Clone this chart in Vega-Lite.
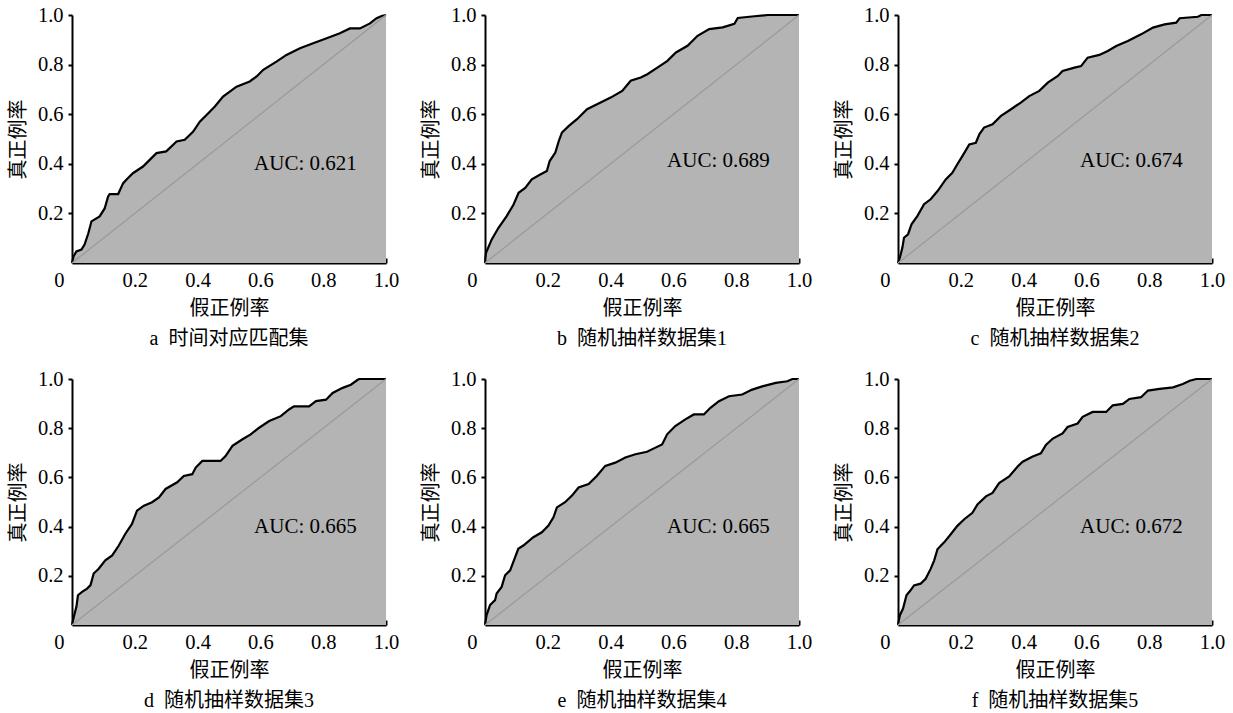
{
  "$schema": "https://vega.github.io/schema/vega-lite/v6.json",
  "background": "white",
  "padding": {"left": 8, "top": 5, "right": 5, "bottom": 0},
  "columns": 3,
  "spacing": {"column": 22, "row": 20},
  "config": {
    "view": {"stroke": null},
    "axis": {
      "grid": false,
      "domainColor": "black",
      "domainWidth": 2,
      "tickColor": "black",
      "tickWidth": 2,
      "labelFont": "Liberation Serif",
      "labelFontSize": 20.5,
      "labelColor": "black",
      "titleFont": "Liberation Serif, Noto Sans CJK SC",
      "titleFontSize": 20,
      "titleFontWeight": "normal",
      "titleColor": "black"
    },
    "title": {
      "font": "Liberation Serif, Noto Sans CJK SC",
      "fontSize": 20,
      "fontWeight": "normal",
      "color": "black",
      "orient": "bottom",
      "offset": 10
    }
  },
  "datasets": {
    "roc": [
      {"panel": "a", "fpr": 0, "tpr": 0},
      {"panel": "a", "fpr": 0.005, "tpr": 0.027},
      {"panel": "a", "fpr": 0.014, "tpr": 0.047},
      {"panel": "a", "fpr": 0.03, "tpr": 0.054},
      {"panel": "a", "fpr": 0.04, "tpr": 0.074},
      {"panel": "a", "fpr": 0.052, "tpr": 0.12},
      {"panel": "a", "fpr": 0.062, "tpr": 0.168},
      {"panel": "a", "fpr": 0.088, "tpr": 0.188},
      {"panel": "a", "fpr": 0.104, "tpr": 0.22},
      {"panel": "a", "fpr": 0.115, "tpr": 0.268},
      {"panel": "a", "fpr": 0.12, "tpr": 0.278},
      {"panel": "a", "fpr": 0.147, "tpr": 0.278},
      {"panel": "a", "fpr": 0.163, "tpr": 0.322},
      {"panel": "a", "fpr": 0.173, "tpr": 0.336},
      {"panel": "a", "fpr": 0.194, "tpr": 0.362},
      {"panel": "a", "fpr": 0.226, "tpr": 0.389},
      {"panel": "a", "fpr": 0.269, "tpr": 0.443},
      {"panel": "a", "fpr": 0.3, "tpr": 0.45},
      {"panel": "a", "fpr": 0.333, "tpr": 0.49},
      {"panel": "a", "fpr": 0.359, "tpr": 0.497},
      {"panel": "a", "fpr": 0.386, "tpr": 0.53},
      {"panel": "a", "fpr": 0.407, "tpr": 0.57},
      {"panel": "a", "fpr": 0.434, "tpr": 0.604},
      {"panel": "a", "fpr": 0.455, "tpr": 0.631},
      {"panel": "a", "fpr": 0.481, "tpr": 0.671},
      {"panel": "a", "fpr": 0.524, "tpr": 0.711},
      {"panel": "a", "fpr": 0.566, "tpr": 0.732},
      {"panel": "a", "fpr": 0.588, "tpr": 0.752},
      {"panel": "a", "fpr": 0.609, "tpr": 0.779},
      {"panel": "a", "fpr": 0.651, "tpr": 0.812},
      {"panel": "a", "fpr": 0.683, "tpr": 0.839},
      {"panel": "a", "fpr": 0.726, "tpr": 0.866},
      {"panel": "a", "fpr": 0.768, "tpr": 0.886},
      {"panel": "a", "fpr": 0.811, "tpr": 0.906},
      {"panel": "a", "fpr": 0.853, "tpr": 0.926},
      {"panel": "a", "fpr": 0.885, "tpr": 0.946},
      {"panel": "a", "fpr": 0.917, "tpr": 0.946},
      {"panel": "a", "fpr": 0.949, "tpr": 0.966},
      {"panel": "a", "fpr": 0.97, "tpr": 0.987},
      {"panel": "a", "fpr": 0.986, "tpr": 0.996},
      {"panel": "a", "fpr": 1, "tpr": 1},

      {"panel": "b", "fpr": 0, "tpr": 0},
      {"panel": "b", "fpr": 0.003, "tpr": 0.04},
      {"panel": "b", "fpr": 0.021, "tpr": 0.094},
      {"panel": "b", "fpr": 0.043, "tpr": 0.142},
      {"panel": "b", "fpr": 0.069, "tpr": 0.189},
      {"panel": "b", "fpr": 0.091, "tpr": 0.236},
      {"panel": "b", "fpr": 0.107, "tpr": 0.283},
      {"panel": "b", "fpr": 0.128, "tpr": 0.303},
      {"panel": "b", "fpr": 0.149, "tpr": 0.337},
      {"panel": "b", "fpr": 0.176, "tpr": 0.357},
      {"panel": "b", "fpr": 0.197, "tpr": 0.371},
      {"panel": "b", "fpr": 0.206, "tpr": 0.411},
      {"panel": "b", "fpr": 0.224, "tpr": 0.445},
      {"panel": "b", "fpr": 0.235, "tpr": 0.492},
      {"panel": "b", "fpr": 0.245, "tpr": 0.526},
      {"panel": "b", "fpr": 0.267, "tpr": 0.553},
      {"panel": "b", "fpr": 0.293, "tpr": 0.58},
      {"panel": "b", "fpr": 0.325, "tpr": 0.62},
      {"panel": "b", "fpr": 0.368, "tpr": 0.647},
      {"panel": "b", "fpr": 0.4, "tpr": 0.667},
      {"panel": "b", "fpr": 0.437, "tpr": 0.694},
      {"panel": "b", "fpr": 0.464, "tpr": 0.735},
      {"panel": "b", "fpr": 0.496, "tpr": 0.748},
      {"panel": "b", "fpr": 0.517, "tpr": 0.761},
      {"panel": "b", "fpr": 0.549, "tpr": 0.788},
      {"panel": "b", "fpr": 0.581, "tpr": 0.815},
      {"panel": "b", "fpr": 0.608, "tpr": 0.849},
      {"panel": "b", "fpr": 0.645, "tpr": 0.876},
      {"panel": "b", "fpr": 0.677, "tpr": 0.916},
      {"panel": "b", "fpr": 0.714, "tpr": 0.943},
      {"panel": "b", "fpr": 0.757, "tpr": 0.95},
      {"panel": "b", "fpr": 0.794, "tpr": 0.964},
      {"panel": "b", "fpr": 0.805, "tpr": 0.988},
      {"panel": "b", "fpr": 0.858, "tpr": 0.995},
      {"panel": "b", "fpr": 0.901, "tpr": 1},
      {"panel": "b", "fpr": 1, "tpr": 1},

      {"panel": "c", "fpr": 0, "tpr": 0},
      {"panel": "c", "fpr": 0.006, "tpr": 0.022},
      {"panel": "c", "fpr": 0.014, "tpr": 0.062},
      {"panel": "c", "fpr": 0.019, "tpr": 0.102},
      {"panel": "c", "fpr": 0.032, "tpr": 0.116},
      {"panel": "c", "fpr": 0.043, "tpr": 0.156},
      {"panel": "c", "fpr": 0.062, "tpr": 0.19},
      {"panel": "c", "fpr": 0.083, "tpr": 0.237},
      {"panel": "c", "fpr": 0.104, "tpr": 0.257},
      {"panel": "c", "fpr": 0.126, "tpr": 0.29},
      {"panel": "c", "fpr": 0.152, "tpr": 0.337},
      {"panel": "c", "fpr": 0.173, "tpr": 0.364},
      {"panel": "c", "fpr": 0.189, "tpr": 0.398},
      {"panel": "c", "fpr": 0.205, "tpr": 0.431},
      {"panel": "c", "fpr": 0.227, "tpr": 0.478},
      {"panel": "c", "fpr": 0.248, "tpr": 0.485},
      {"panel": "c", "fpr": 0.259, "tpr": 0.519},
      {"panel": "c", "fpr": 0.274, "tpr": 0.546},
      {"panel": "c", "fpr": 0.301, "tpr": 0.559},
      {"panel": "c", "fpr": 0.328, "tpr": 0.593},
      {"panel": "c", "fpr": 0.36, "tpr": 0.62},
      {"panel": "c", "fpr": 0.391, "tpr": 0.647},
      {"panel": "c", "fpr": 0.418, "tpr": 0.673},
      {"panel": "c", "fpr": 0.45, "tpr": 0.694},
      {"panel": "c", "fpr": 0.477, "tpr": 0.727},
      {"panel": "c", "fpr": 0.509, "tpr": 0.754},
      {"panel": "c", "fpr": 0.524, "tpr": 0.774},
      {"panel": "c", "fpr": 0.562, "tpr": 0.788},
      {"panel": "c", "fpr": 0.583, "tpr": 0.794},
      {"panel": "c", "fpr": 0.604, "tpr": 0.828},
      {"panel": "c", "fpr": 0.641, "tpr": 0.839},
      {"panel": "c", "fpr": 0.668, "tpr": 0.855},
      {"panel": "c", "fpr": 0.695, "tpr": 0.875},
      {"panel": "c", "fpr": 0.732, "tpr": 0.895},
      {"panel": "c", "fpr": 0.774, "tpr": 0.922},
      {"panel": "c", "fpr": 0.812, "tpr": 0.949},
      {"panel": "c", "fpr": 0.849, "tpr": 0.962},
      {"panel": "c", "fpr": 0.886, "tpr": 0.969},
      {"panel": "c", "fpr": 0.897, "tpr": 0.987},
      {"panel": "c", "fpr": 0.955, "tpr": 0.993},
      {"panel": "c", "fpr": 0.966, "tpr": 1},
      {"panel": "c", "fpr": 1, "tpr": 1},

      {"panel": "d", "fpr": 0, "tpr": 0},
      {"panel": "d", "fpr": 0.007, "tpr": 0.04},
      {"panel": "d", "fpr": 0.014, "tpr": 0.074},
      {"panel": "d", "fpr": 0.019, "tpr": 0.121},
      {"panel": "d", "fpr": 0.032, "tpr": 0.135},
      {"panel": "d", "fpr": 0.048, "tpr": 0.148},
      {"panel": "d", "fpr": 0.059, "tpr": 0.162},
      {"panel": "d", "fpr": 0.069, "tpr": 0.209},
      {"panel": "d", "fpr": 0.085, "tpr": 0.229},
      {"panel": "d", "fpr": 0.106, "tpr": 0.263},
      {"panel": "d", "fpr": 0.128, "tpr": 0.283},
      {"panel": "d", "fpr": 0.149, "tpr": 0.323},
      {"panel": "d", "fpr": 0.17, "tpr": 0.371},
      {"panel": "d", "fpr": 0.191, "tpr": 0.411},
      {"panel": "d", "fpr": 0.207, "tpr": 0.465},
      {"panel": "d", "fpr": 0.229, "tpr": 0.485},
      {"panel": "d", "fpr": 0.255, "tpr": 0.499},
      {"panel": "d", "fpr": 0.277, "tpr": 0.519},
      {"panel": "d", "fpr": 0.298, "tpr": 0.553},
      {"panel": "d", "fpr": 0.335, "tpr": 0.58},
      {"panel": "d", "fpr": 0.356, "tpr": 0.606},
      {"panel": "d", "fpr": 0.383, "tpr": 0.613},
      {"panel": "d", "fpr": 0.394, "tpr": 0.64},
      {"panel": "d", "fpr": 0.415, "tpr": 0.667},
      {"panel": "d", "fpr": 0.473, "tpr": 0.667},
      {"panel": "d", "fpr": 0.489, "tpr": 0.687},
      {"panel": "d", "fpr": 0.511, "tpr": 0.728},
      {"panel": "d", "fpr": 0.543, "tpr": 0.755},
      {"panel": "d", "fpr": 0.569, "tpr": 0.775},
      {"panel": "d", "fpr": 0.596, "tpr": 0.802},
      {"panel": "d", "fpr": 0.628, "tpr": 0.829},
      {"panel": "d", "fpr": 0.665, "tpr": 0.849},
      {"panel": "d", "fpr": 0.691, "tpr": 0.876},
      {"panel": "d", "fpr": 0.707, "tpr": 0.889},
      {"panel": "d", "fpr": 0.755, "tpr": 0.889},
      {"panel": "d", "fpr": 0.777, "tpr": 0.91},
      {"panel": "d", "fpr": 0.809, "tpr": 0.916},
      {"panel": "d", "fpr": 0.83, "tpr": 0.943},
      {"panel": "d", "fpr": 0.862, "tpr": 0.964},
      {"panel": "d", "fpr": 0.888, "tpr": 0.977},
      {"panel": "d", "fpr": 0.91, "tpr": 0.997},
      {"panel": "d", "fpr": 0.915, "tpr": 1},
      {"panel": "d", "fpr": 1, "tpr": 1},

      {"panel": "e", "fpr": 0, "tpr": 0},
      {"panel": "e", "fpr": 0.005, "tpr": 0.04},
      {"panel": "e", "fpr": 0.016, "tpr": 0.081},
      {"panel": "e", "fpr": 0.032, "tpr": 0.101},
      {"panel": "e", "fpr": 0.037, "tpr": 0.128},
      {"panel": "e", "fpr": 0.053, "tpr": 0.155},
      {"panel": "e", "fpr": 0.064, "tpr": 0.202},
      {"panel": "e", "fpr": 0.08, "tpr": 0.222},
      {"panel": "e", "fpr": 0.09, "tpr": 0.256},
      {"panel": "e", "fpr": 0.106, "tpr": 0.31},
      {"panel": "e", "fpr": 0.122, "tpr": 0.323},
      {"panel": "e", "fpr": 0.154, "tpr": 0.357},
      {"panel": "e", "fpr": 0.181, "tpr": 0.377},
      {"panel": "e", "fpr": 0.202, "tpr": 0.404},
      {"panel": "e", "fpr": 0.218, "tpr": 0.438},
      {"panel": "e", "fpr": 0.229, "tpr": 0.478},
      {"panel": "e", "fpr": 0.255, "tpr": 0.499},
      {"panel": "e", "fpr": 0.277, "tpr": 0.526},
      {"panel": "e", "fpr": 0.298, "tpr": 0.559},
      {"panel": "e", "fpr": 0.33, "tpr": 0.573},
      {"panel": "e", "fpr": 0.356, "tpr": 0.606},
      {"panel": "e", "fpr": 0.383, "tpr": 0.647},
      {"panel": "e", "fpr": 0.415, "tpr": 0.66},
      {"panel": "e", "fpr": 0.447, "tpr": 0.681},
      {"panel": "e", "fpr": 0.479, "tpr": 0.694},
      {"panel": "e", "fpr": 0.516, "tpr": 0.704},
      {"panel": "e", "fpr": 0.543, "tpr": 0.721},
      {"panel": "e", "fpr": 0.564, "tpr": 0.734},
      {"panel": "e", "fpr": 0.58, "tpr": 0.775},
      {"panel": "e", "fpr": 0.606, "tpr": 0.809},
      {"panel": "e", "fpr": 0.638, "tpr": 0.836},
      {"panel": "e", "fpr": 0.665, "tpr": 0.856},
      {"panel": "e", "fpr": 0.697, "tpr": 0.856},
      {"panel": "e", "fpr": 0.718, "tpr": 0.883},
      {"panel": "e", "fpr": 0.745, "tpr": 0.91},
      {"panel": "e", "fpr": 0.777, "tpr": 0.93},
      {"panel": "e", "fpr": 0.819, "tpr": 0.937},
      {"panel": "e", "fpr": 0.851, "tpr": 0.957},
      {"panel": "e", "fpr": 0.883, "tpr": 0.97},
      {"panel": "e", "fpr": 0.926, "tpr": 0.984},
      {"panel": "e", "fpr": 0.963, "tpr": 0.991},
      {"panel": "e", "fpr": 0.979, "tpr": 1},
      {"panel": "e", "fpr": 1, "tpr": 1},

      {"panel": "f", "fpr": 0, "tpr": 0},
      {"panel": "f", "fpr": 0.006, "tpr": 0.04},
      {"panel": "f", "fpr": 0.016, "tpr": 0.067},
      {"panel": "f", "fpr": 0.027, "tpr": 0.121},
      {"panel": "f", "fpr": 0.04, "tpr": 0.141},
      {"panel": "f", "fpr": 0.051, "tpr": 0.161},
      {"panel": "f", "fpr": 0.072, "tpr": 0.168},
      {"panel": "f", "fpr": 0.088, "tpr": 0.188},
      {"panel": "f", "fpr": 0.104, "tpr": 0.228},
      {"panel": "f", "fpr": 0.115, "tpr": 0.262},
      {"panel": "f", "fpr": 0.126, "tpr": 0.309},
      {"panel": "f", "fpr": 0.147, "tpr": 0.336},
      {"panel": "f", "fpr": 0.168, "tpr": 0.369},
      {"panel": "f", "fpr": 0.189, "tpr": 0.403},
      {"panel": "f", "fpr": 0.211, "tpr": 0.43},
      {"panel": "f", "fpr": 0.237, "tpr": 0.456},
      {"panel": "f", "fpr": 0.253, "tpr": 0.49},
      {"panel": "f", "fpr": 0.28, "tpr": 0.523},
      {"panel": "f", "fpr": 0.301, "tpr": 0.537},
      {"panel": "f", "fpr": 0.322, "tpr": 0.577},
      {"panel": "f", "fpr": 0.354, "tpr": 0.604},
      {"panel": "f", "fpr": 0.381, "tpr": 0.644},
      {"panel": "f", "fpr": 0.397, "tpr": 0.664},
      {"panel": "f", "fpr": 0.429, "tpr": 0.685},
      {"panel": "f", "fpr": 0.455, "tpr": 0.698},
      {"panel": "f", "fpr": 0.471, "tpr": 0.732},
      {"panel": "f", "fpr": 0.493, "tpr": 0.758},
      {"panel": "f", "fpr": 0.524, "tpr": 0.779},
      {"panel": "f", "fpr": 0.54, "tpr": 0.805},
      {"panel": "f", "fpr": 0.572, "tpr": 0.819},
      {"panel": "f", "fpr": 0.588, "tpr": 0.846},
      {"panel": "f", "fpr": 0.62, "tpr": 0.866},
      {"panel": "f", "fpr": 0.663, "tpr": 0.866},
      {"panel": "f", "fpr": 0.684, "tpr": 0.893},
      {"panel": "f", "fpr": 0.716, "tpr": 0.899},
      {"panel": "f", "fpr": 0.737, "tpr": 0.919},
      {"panel": "f", "fpr": 0.774, "tpr": 0.926},
      {"panel": "f", "fpr": 0.796, "tpr": 0.953},
      {"panel": "f", "fpr": 0.833, "tpr": 0.96},
      {"panel": "f", "fpr": 0.876, "tpr": 0.966},
      {"panel": "f", "fpr": 0.907, "tpr": 0.98},
      {"panel": "f", "fpr": 0.929, "tpr": 0.993},
      {"panel": "f", "fpr": 0.95, "tpr": 1},
      {"panel": "f", "fpr": 1, "tpr": 1}
    ],
    "auc": [
      {"panel": "a", "label": "AUC: 0.621"},
      {"panel": "b", "label": "AUC: 0.689"},
      {"panel": "c", "label": "AUC: 0.674"},
      {"panel": "d", "label": "AUC: 0.665"},
      {"panel": "e", "label": "AUC: 0.665"},
      {"panel": "f", "label": "AUC: 0.672"}
    ]
  },
  "concat": [
    {
      "title": {"text": "a\u00a0\u00a0时间对应匹配集"},
      "width": 314, "height": 248,
      "layer": [
        {"data": {"name": "roc"}, "transform": [{"filter": "datum.panel == 'a'"}],
         "mark": {"type": "area", "color": "#b4b4b4", "opacity": 1},
         "encoding": {
           "x": {"field": "fpr", "type": "quantitative", "scale": {"domain": [0, 1]}, "title": "假正例率",
                 "axis": {"values": [0, 0.2, 0.4, 0.6, 0.8, 1], "labelExpr": "datum.value == 0 ? '0' : format(datum.value, '.1f')", "labelFont": "Liberation Serif", "labelFontSize": 20.5, "tickSize": -5, "labelPadding": 12, "titlePadding": 8,
                          "labelAlign": {"condition": {"test": "datum.value == 0", "value": "right"}, "value": "center"},
                          "labelOffset": {"condition": {"test": "datum.value == 0", "value": -8}, "value": 0},
                          "tickOpacity": {"condition": {"test": "datum.value == 0", "value": 0}, "value": 1}}},
           "y": {"field": "tpr", "type": "quantitative", "scale": {"domain": [0, 1]}, "title": "真正例率",
                 "axis": {"values": [0.2, 0.4, 0.6, 0.8, 1], "format": ".1f", "labelFont": "Liberation Serif", "labelFontSize": 20.5, "tickSize": 4, "labelPadding": 5, "titlePadding": 9}}
         }},
        {"data": {"name": "roc"}, "transform": [{"filter": "datum.panel == 'a'"}],
         "mark": {"type": "line", "color": "black", "strokeWidth": 2.2, "interpolate": "linear"},
         "encoding": {"x": {"field": "fpr", "type": "quantitative"}, "y": {"field": "tpr", "type": "quantitative"}}},
        {"data": {"name": "auc"}, "transform": [{"filter": "datum.panel == 'a'"}],
         "mark": {"type": "rule", "color": "#999999", "strokeWidth": 1.2},
         "encoding": {"x": {"datum": 0}, "y": {"datum": 0}, "x2": {"datum": 1}, "y2": {"datum": 1}}},
        {"data": {"name": "auc"}, "transform": [{"filter": "datum.panel == 'a'"}],
         "mark": {"type": "text", "align": "left", "baseline": "middle", "font": "Liberation Serif", "fontSize": 21, "color": "black"},
         "encoding": {"x": {"datum": 0.58}, "y": {"datum": 0.4}, "text": {"field": "label"}}}
      ]
    },
    {
      "title": {"text": "b\u00a0\u00a0随机抽样数据集1"},
      "width": 314, "height": 248,
      "layer": [
        {"data": {"name": "roc"}, "transform": [{"filter": "datum.panel == 'b'"}],
         "mark": {"type": "area", "color": "#b4b4b4", "opacity": 1},
         "encoding": {
           "x": {"field": "fpr", "type": "quantitative", "scale": {"domain": [0, 1]}, "title": "假正例率",
                 "axis": {"values": [0, 0.2, 0.4, 0.6, 0.8, 1], "labelExpr": "datum.value == 0 ? '0' : format(datum.value, '.1f')", "labelFont": "Liberation Serif", "labelFontSize": 20.5, "tickSize": -5, "labelPadding": 12, "titlePadding": 8,
                          "labelAlign": {"condition": {"test": "datum.value == 0", "value": "right"}, "value": "center"},
                          "labelOffset": {"condition": {"test": "datum.value == 0", "value": -8}, "value": 0},
                          "tickOpacity": {"condition": {"test": "datum.value == 0", "value": 0}, "value": 1}}},
           "y": {"field": "tpr", "type": "quantitative", "scale": {"domain": [0, 1]}, "title": "真正例率",
                 "axis": {"values": [0.2, 0.4, 0.6, 0.8, 1], "format": ".1f", "labelFont": "Liberation Serif", "labelFontSize": 20.5, "tickSize": 4, "labelPadding": 5, "titlePadding": 9}}
         }},
        {"data": {"name": "roc"}, "transform": [{"filter": "datum.panel == 'b'"}],
         "mark": {"type": "line", "color": "black", "strokeWidth": 2.2, "interpolate": "linear"},
         "encoding": {"x": {"field": "fpr", "type": "quantitative"}, "y": {"field": "tpr", "type": "quantitative"}}},
        {"data": {"name": "auc"}, "transform": [{"filter": "datum.panel == 'b'"}],
         "mark": {"type": "rule", "color": "#999999", "strokeWidth": 1.2},
         "encoding": {"x": {"datum": 0}, "y": {"datum": 0}, "x2": {"datum": 1}, "y2": {"datum": 1}}},
        {"data": {"name": "auc"}, "transform": [{"filter": "datum.panel == 'b'"}],
         "mark": {"type": "text", "align": "left", "baseline": "middle", "font": "Liberation Serif", "fontSize": 21, "color": "black"},
         "encoding": {"x": {"datum": 0.58}, "y": {"datum": 0.41}, "text": {"field": "label"}}}
      ]
    },
    {
      "title": {"text": "c\u00a0\u00a0随机抽样数据集2"},
      "width": 314, "height": 248,
      "layer": [
        {"data": {"name": "roc"}, "transform": [{"filter": "datum.panel == 'c'"}],
         "mark": {"type": "area", "color": "#b4b4b4", "opacity": 1},
         "encoding": {
           "x": {"field": "fpr", "type": "quantitative", "scale": {"domain": [0, 1]}, "title": "假正例率",
                 "axis": {"values": [0, 0.2, 0.4, 0.6, 0.8, 1], "labelExpr": "datum.value == 0 ? '0' : format(datum.value, '.1f')", "labelFont": "Liberation Serif", "labelFontSize": 20.5, "tickSize": -5, "labelPadding": 12, "titlePadding": 8,
                          "labelAlign": {"condition": {"test": "datum.value == 0", "value": "right"}, "value": "center"},
                          "labelOffset": {"condition": {"test": "datum.value == 0", "value": -8}, "value": 0},
                          "tickOpacity": {"condition": {"test": "datum.value == 0", "value": 0}, "value": 1}}},
           "y": {"field": "tpr", "type": "quantitative", "scale": {"domain": [0, 1]}, "title": "真正例率",
                 "axis": {"values": [0.2, 0.4, 0.6, 0.8, 1], "format": ".1f", "labelFont": "Liberation Serif", "labelFontSize": 20.5, "tickSize": 4, "labelPadding": 5, "titlePadding": 9}}
         }},
        {"data": {"name": "roc"}, "transform": [{"filter": "datum.panel == 'c'"}],
         "mark": {"type": "line", "color": "black", "strokeWidth": 2.2, "interpolate": "linear"},
         "encoding": {"x": {"field": "fpr", "type": "quantitative"}, "y": {"field": "tpr", "type": "quantitative"}}},
        {"data": {"name": "auc"}, "transform": [{"filter": "datum.panel == 'c'"}],
         "mark": {"type": "rule", "color": "#999999", "strokeWidth": 1.2},
         "encoding": {"x": {"datum": 0}, "y": {"datum": 0}, "x2": {"datum": 1}, "y2": {"datum": 1}}},
        {"data": {"name": "auc"}, "transform": [{"filter": "datum.panel == 'c'"}],
         "mark": {"type": "text", "align": "left", "baseline": "middle", "font": "Liberation Serif", "fontSize": 21, "color": "black"},
         "encoding": {"x": {"datum": 0.58}, "y": {"datum": 0.41}, "text": {"field": "label"}}}
      ]
    },
    {
      "title": {"text": "d\u00a0\u00a0随机抽样数据集3"},
      "width": 314, "height": 246,
      "layer": [
        {"data": {"name": "roc"}, "transform": [{"filter": "datum.panel == 'd'"}],
         "mark": {"type": "area", "color": "#b4b4b4", "opacity": 1},
         "encoding": {
           "x": {"field": "fpr", "type": "quantitative", "scale": {"domain": [0, 1]}, "title": "假正例率",
                 "axis": {"values": [0, 0.2, 0.4, 0.6, 0.8, 1], "labelExpr": "datum.value == 0 ? '0' : format(datum.value, '.1f')", "labelFont": "Liberation Serif", "labelFontSize": 20.5, "tickSize": -5, "labelPadding": 12, "titlePadding": 8,
                          "labelAlign": {"condition": {"test": "datum.value == 0", "value": "right"}, "value": "center"},
                          "labelOffset": {"condition": {"test": "datum.value == 0", "value": -8}, "value": 0},
                          "tickOpacity": {"condition": {"test": "datum.value == 0", "value": 0}, "value": 1}}},
           "y": {"field": "tpr", "type": "quantitative", "scale": {"domain": [0, 1]}, "title": "真正例率",
                 "axis": {"values": [0.2, 0.4, 0.6, 0.8, 1], "format": ".1f", "labelFont": "Liberation Serif", "labelFontSize": 20.5, "tickSize": 4, "labelPadding": 5, "titlePadding": 9}}
         }},
        {"data": {"name": "roc"}, "transform": [{"filter": "datum.panel == 'd'"}],
         "mark": {"type": "line", "color": "black", "strokeWidth": 2.2, "interpolate": "linear"},
         "encoding": {"x": {"field": "fpr", "type": "quantitative"}, "y": {"field": "tpr", "type": "quantitative"}}},
        {"data": {"name": "auc"}, "transform": [{"filter": "datum.panel == 'd'"}],
         "mark": {"type": "rule", "color": "#999999", "strokeWidth": 1.2},
         "encoding": {"x": {"datum": 0}, "y": {"datum": 0}, "x2": {"datum": 1}, "y2": {"datum": 1}}},
        {"data": {"name": "auc"}, "transform": [{"filter": "datum.panel == 'd'"}],
         "mark": {"type": "text", "align": "left", "baseline": "middle", "font": "Liberation Serif", "fontSize": 21, "color": "black"},
         "encoding": {"x": {"datum": 0.58}, "y": {"datum": 0.4}, "text": {"field": "label"}}}
      ]
    },
    {
      "title": {"text": "e\u00a0\u00a0随机抽样数据集4"},
      "width": 314, "height": 246,
      "layer": [
        {"data": {"name": "roc"}, "transform": [{"filter": "datum.panel == 'e'"}],
         "mark": {"type": "area", "color": "#b4b4b4", "opacity": 1},
         "encoding": {
           "x": {"field": "fpr", "type": "quantitative", "scale": {"domain": [0, 1]}, "title": "假正例率",
                 "axis": {"values": [0, 0.2, 0.4, 0.6, 0.8, 1], "labelExpr": "datum.value == 0 ? '0' : format(datum.value, '.1f')", "labelFont": "Liberation Serif", "labelFontSize": 20.5, "tickSize": -5, "labelPadding": 12, "titlePadding": 8,
                          "labelAlign": {"condition": {"test": "datum.value == 0", "value": "right"}, "value": "center"},
                          "labelOffset": {"condition": {"test": "datum.value == 0", "value": -8}, "value": 0},
                          "tickOpacity": {"condition": {"test": "datum.value == 0", "value": 0}, "value": 1}}},
           "y": {"field": "tpr", "type": "quantitative", "scale": {"domain": [0, 1]}, "title": "真正例率",
                 "axis": {"values": [0.2, 0.4, 0.6, 0.8, 1], "format": ".1f", "labelFont": "Liberation Serif", "labelFontSize": 20.5, "tickSize": 4, "labelPadding": 5, "titlePadding": 9}}
         }},
        {"data": {"name": "roc"}, "transform": [{"filter": "datum.panel == 'e'"}],
         "mark": {"type": "line", "color": "black", "strokeWidth": 2.2, "interpolate": "linear"},
         "encoding": {"x": {"field": "fpr", "type": "quantitative"}, "y": {"field": "tpr", "type": "quantitative"}}},
        {"data": {"name": "auc"}, "transform": [{"filter": "datum.panel == 'e'"}],
         "mark": {"type": "rule", "color": "#999999", "strokeWidth": 1.2},
         "encoding": {"x": {"datum": 0}, "y": {"datum": 0}, "x2": {"datum": 1}, "y2": {"datum": 1}}},
        {"data": {"name": "auc"}, "transform": [{"filter": "datum.panel == 'e'"}],
         "mark": {"type": "text", "align": "left", "baseline": "middle", "font": "Liberation Serif", "fontSize": 21, "color": "black"},
         "encoding": {"x": {"datum": 0.58}, "y": {"datum": 0.4}, "text": {"field": "label"}}}
      ]
    },
    {
      "title": {"text": "f\u00a0\u00a0随机抽样数据集5"},
      "width": 314, "height": 246,
      "layer": [
        {"data": {"name": "roc"}, "transform": [{"filter": "datum.panel == 'f'"}],
         "mark": {"type": "area", "color": "#b4b4b4", "opacity": 1},
         "encoding": {
           "x": {"field": "fpr", "type": "quantitative", "scale": {"domain": [0, 1]}, "title": "假正例率",
                 "axis": {"values": [0, 0.2, 0.4, 0.6, 0.8, 1], "labelExpr": "datum.value == 0 ? '0' : format(datum.value, '.1f')", "labelFont": "Liberation Serif", "labelFontSize": 20.5, "tickSize": -5, "labelPadding": 12, "titlePadding": 8,
                          "labelAlign": {"condition": {"test": "datum.value == 0", "value": "right"}, "value": "center"},
                          "labelOffset": {"condition": {"test": "datum.value == 0", "value": -8}, "value": 0},
                          "tickOpacity": {"condition": {"test": "datum.value == 0", "value": 0}, "value": 1}}},
           "y": {"field": "tpr", "type": "quantitative", "scale": {"domain": [0, 1]}, "title": "真正例率",
                 "axis": {"values": [0.2, 0.4, 0.6, 0.8, 1], "format": ".1f", "labelFont": "Liberation Serif", "labelFontSize": 20.5, "tickSize": 4, "labelPadding": 5, "titlePadding": 9}}
         }},
        {"data": {"name": "roc"}, "transform": [{"filter": "datum.panel == 'f'"}],
         "mark": {"type": "line", "color": "black", "strokeWidth": 2.2, "interpolate": "linear"},
         "encoding": {"x": {"field": "fpr", "type": "quantitative"}, "y": {"field": "tpr", "type": "quantitative"}}},
        {"data": {"name": "auc"}, "transform": [{"filter": "datum.panel == 'f'"}],
         "mark": {"type": "rule", "color": "#999999", "strokeWidth": 1.2},
         "encoding": {"x": {"datum": 0}, "y": {"datum": 0}, "x2": {"datum": 1}, "y2": {"datum": 1}}},
        {"data": {"name": "auc"}, "transform": [{"filter": "datum.panel == 'f'"}],
         "mark": {"type": "text", "align": "left", "baseline": "middle", "font": "Liberation Serif", "fontSize": 21, "color": "black"},
         "encoding": {"x": {"datum": 0.58}, "y": {"datum": 0.4}, "text": {"field": "label"}}}
      ]
    }
  ]
}
